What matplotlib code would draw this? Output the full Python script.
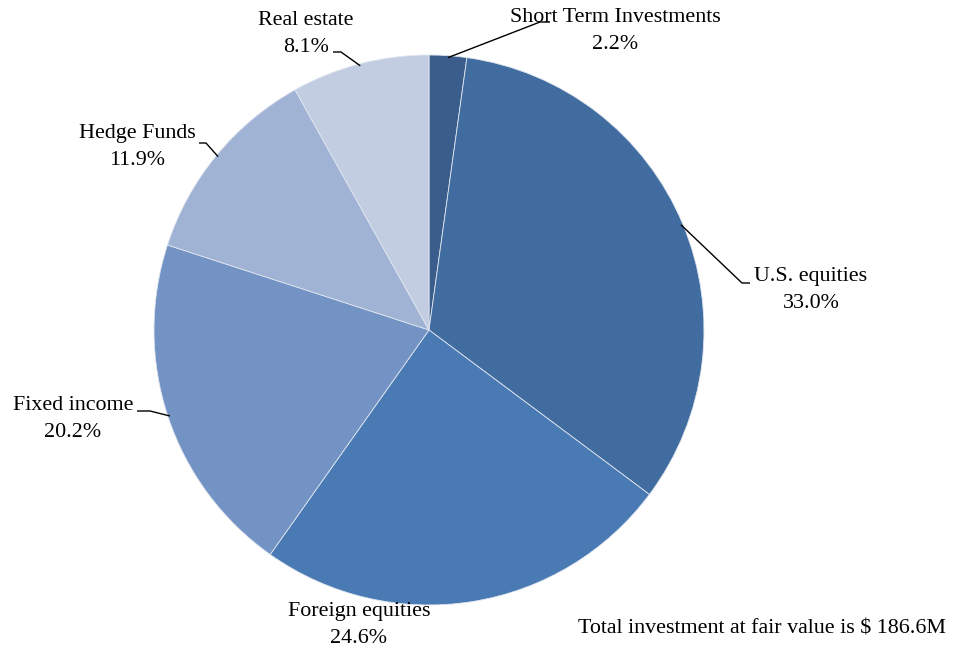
import numpy as np
import matplotlib.pyplot as plt

# asset allocation, percent of total
categories = ['Short Term Investments', 'U.S. equities', 'Foreign equities',
              'Fixed income', 'Hedge Funds', 'Real estate']
shares = [2.2, 33.0, 24.6, 20.2, 11.9, 8.1]
total_note = 'Total investment at fair value is $ 186.6M'

colors = ['#3A5D8C', '#416C9F', '#4A7AB4', '#7393C5', '#A1B3D4', '#C2CDE2']

plt.rcParams['font.family'] = ['Liberation Serif', 'DejaVu Serif']

W, H = 956, 654
fig = plt.figure(figsize=(W / 100, H / 100), dpi=100)
ax = fig.add_axes([0, 0, 1, 1])

cx, cy, r = 429, 330, 275
# y axis is inverted, so counterclock=True draws clockwise on screen
wedges, _ = ax.pie(shares, colors=colors, startangle=-90, counterclock=True,
                   center=(cx, cy), radius=r, frame=True,
                   wedgeprops=dict(edgecolor='#dfe5ef', linewidth=0.6))
ax.set_xlim(0, W)
ax.set_ylim(H, 0)
ax.set_aspect('equal')
ax.axis('off')

# label layout: text centre, elbow point, end of horizontal tick
layout = {
    'Short Term Investments': ((615, 31), (540, 22), (550, 22)),
    'U.S. equities': ((811, 290), (742, 283), (750, 283)),
    'Foreign equities': ((359, 625), None, None),
    'Fixed income': ((73, 419), (150, 411), (137, 411)),
    'Hedge Funds': ((137, 147), (206, 143), (199, 143)),
    'Real estate': ((306, 34), (341, 52), (333, 52)),
}

for w, name, val in zip(wedges, categories, shares):
    (tx, ty), elbow, tick = layout[name]
    ax.text(tx, ty, f'{name}\n{val:.1f}%', ha='center', va='center',
            fontsize=15.8, linespacing=1.55, color='black')
    if elbow is None:
        continue
    ang = np.deg2rad((w.theta1 + w.theta2) / 2)
    px = cx + (r - 2) * np.cos(ang)
    py = cy + (r - 2) * np.sin(ang)
    ax.plot([px, elbow[0], tick[0]], [py, elbow[1], tick[1]],
            color='black', lw=1.0, solid_capstyle='butt')

ax.text(946, 629, total_note, ha='right', va='center', fontsize=15.8)

fig.savefig('out.png', dpi=100)
